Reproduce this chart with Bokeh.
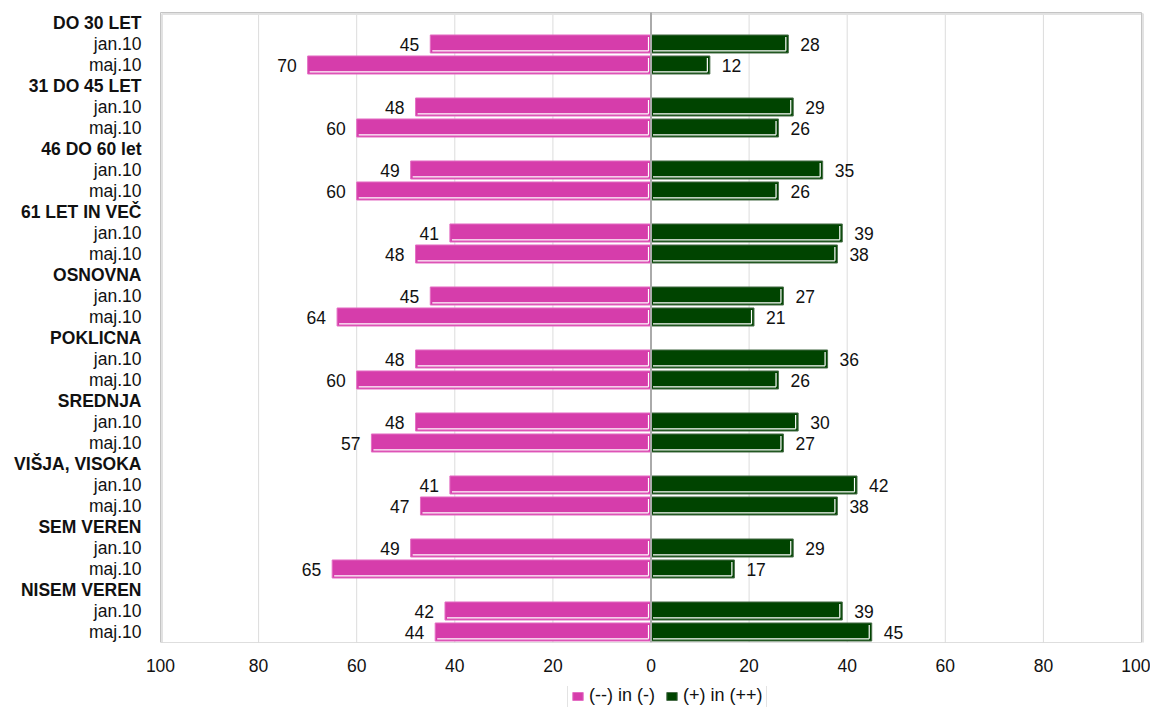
from bokeh.plotting import figure
from bokeh.layouts import column
from bokeh.models import (Range1d, FixedTicker, ColumnDataSource, Legend, LegendItem)
from bokeh.core.properties import value
from bokeh.embed import file_html
from bokeh.resources import INLINE

groups = ["DO 30 LET", "31 DO 45 LET", "46 DO 60 let", "61 LET IN VEČ", "OSNOVNA",
          "POKLICNA", "SREDNJA", "VIŠJA, VISOKA", "SEM VEREN", "NISEM VEREN"]
periods = ["jan.10", "maj.10"]
neg_jan = [45, 48, 49, 41, 45, 48, 48, 41, 49, 42]
neg_maj = [70, 60, 60, 48, 64, 60, 57, 47, 65, 44]
pos_jan = [28, 29, 35, 39, 27, 36, 30, 42, 29, 39]
pos_maj = [12, 26, 26, 38, 21, 26, 27, 38, 17, 45]
series_names = ["(--) in (-)", "(+) in (++)"]
x_ticks = [-100, -80, -60, -40, -20, 0, 20, 40, 60, 80, 100]

PINK = "#D63DAB"
PINK_EDGE = "#E46FC4"
GREEN = "#004400"
GREEN_EDGE = "#4A6E4A"
FONT = "Liberation Sans"
FS = "17.5px"

FW, FH = 1150, 642
PX_X = 981 / 200.0     # pixels per unit x
PX_Y = 21.0            # pixels per row

hdr_y, hdr_t = [], []
row_y, row_t, neg, pos = [], [], [], []
for g, name in enumerate(groups):
    hdr_y.append(3 * g)
    hdr_t.append(name)
    for k, (nv, pv) in enumerate([(neg_jan[g], pos_jan[g]), (neg_maj[g], pos_maj[g])]):
        row_y.append(3 * g + 1 + k)
        row_t.append(periods[k])
        neg.append(nv)
        pos.append(pv)

H = 0.86
src = ColumnDataSource(dict(
    y=row_y, t=row_t, neg=neg, pos=pos,
    nleft=[-v for v in neg], zero=[0] * len(neg),
    nlab=[str(v) for v in neg], plab=[str(v) for v in pos],
    nlx=[-v - 11 / PX_X for v in neg], plx=[v + 12 / PX_X for v in pos],
    wyb=[y + H / 2 - 2.2 / PX_Y for y in row_y],
    wyt=[y - H / 2 + 2.0 / PX_Y for y in row_y],
    nbx0=[-v + 2 / PX_X for v in neg], nbx1=[-2.5 / PX_X] * len(neg),
    pbx0=[2 / PX_X] * len(pos), pbx1=[v - 2.5 / PX_X for v in pos],
))

x0 = -100 - 160 / PX_X
y_top = -0.5 - 12 / PX_Y
p = figure(frame_width=FW, frame_height=FH,
           x_range=Range1d(x0, x0 + FW / PX_X),
           y_range=Range1d(29.5, y_top),
           output_backend="svg", toolbar_location=None,
           min_border_left=0, min_border_right=0, min_border_top=0,
           min_border_bottom=44)
p.outline_line_color = None
p.background_fill_color = "white"
p.yaxis.visible = False
p.ygrid.visible = False
p.xgrid.visible = False

gx = [t for t in x_ticks if abs(t) not in (0, 100)]
p.segment(x0=gx, x1=gx, y0=[-0.5] * len(gx), y1=[29.5] * len(gx),
          line_color="#dcdcdc", line_width=1)
p.quad(left=[-100 + 1.5 / PX_X], right=[100 + 1.5 / PX_X], top=[-0.5 + 1.5 / PX_Y],
       bottom=[29.5 + 1.0 / PX_Y], fill_color=None, line_color="#e2e2e2", line_width=2)
p.quad(left=[-100], right=[100], top=[-0.5], bottom=[29.5],
       fill_color=None, line_color="#c4c4c4", line_width=1)

bar_neg = dict(fill_color=PINK, line_color=PINK_EDGE, line_width=1)
bar_pos = dict(fill_color=GREEN, line_color=GREEN_EDGE, line_width=1)
p.hbar(y="y", left="nleft", right="zero", height=H, source=src, **bar_neg)
p.hbar(y="y", left="zero", right="pos", height=H, source=src, **bar_pos)
p.segment(x0="nbx0", x1="nbx1", y0="wyb", y1="wyb", source=src, line_color="white", line_width=1.2)
p.segment(x0="nbx1", x1="nbx1", y0="wyt", y1="wyb", source=src, line_color="white", line_width=1.2)
p.segment(x0="pbx0", x1="pbx1", y0="wyb", y1="wyb", source=src, line_color="white", line_width=1.2)
p.segment(x0="pbx1", x1="pbx1", y0="wyt", y1="wyb", source=src, line_color="white", line_width=1.2)

p.segment(x0=[0], x1=[0], y0=[-0.5], y1=[29.5], line_color="#aaaaaa", line_width=2)

p.text(x="nlx", y="y", text="nlab", source=src, text_align="right", text_baseline="middle",
       text_font=value(FONT), text_font_size=FS, text_color="#111111")
p.text(x="plx", y="y", text="plab", source=src, text_align="left", text_baseline="middle",
       text_font=value(FONT), text_font_size=FS, text_color="#111111")

lx = -100 - 19 / PX_X
p.text(x=[lx] * len(row_y), y=row_y, text=row_t, text_align="right", text_baseline="middle",
       text_font=value(FONT), text_font_size=FS, text_color="#111111")
p.text(x=[lx] * len(hdr_y), y=hdr_y, text=hdr_t, text_align="right", text_baseline="middle",
       text_font=value(FONT), text_font_size=FS, text_font_style="bold", text_color="#111111")

ax = p.xaxis[0]
ax.ticker = FixedTicker(ticks=x_ticks)
ax.major_label_overrides = {t: str(abs(t)) for t in x_ticks}
ax.axis_line_color = None
ax.major_tick_line_color = None
ax.minor_tick_line_color = None
ax.major_tick_out = 0
ax.major_tick_in = 0
ax.major_label_standoff = 16
ax.major_label_text_font = FONT
ax.major_label_text_font_size = FS
ax.major_label_text_color = "#111111"

# legend strip below the chart (its glyph renderers lie outside the strip's range)
p2 = figure(frame_width=FW, frame_height=21, x_range=Range1d(0, 1), y_range=Range1d(0, 1),
            output_backend="svg", toolbar_location=None,
            min_border_left=0, min_border_right=0, min_border_top=0, min_border_bottom=0)
p2.axis.visible = False
p2.grid.visible = False
p2.outline_line_color = None
ln = p2.hbar(y=[-5], left=[-5], right=[-4], height=1, **bar_neg)
lp = p2.hbar(y=[-5], left=[-5], right=[-4], height=1, **bar_pos)
legend = Legend(items=[LegendItem(label=series_names[0], renderers=[ln]),
                       LegendItem(label=series_names[1], renderers=[lp])],
                orientation="horizontal", location=(567, -3),
                label_text_font=FONT, label_text_font_size="18px",
                label_text_color="#111111",
                glyph_width=13, glyph_height=10, label_standoff=5, spacing=10,
                padding=3, margin=0, border_line_color="#c8c8c8",
                label_height=16)
p2.add_layout(legend, "center")

layout = column(p, p2, spacing=0)
open("out.html", "w").write(file_html(layout, INLINE))
